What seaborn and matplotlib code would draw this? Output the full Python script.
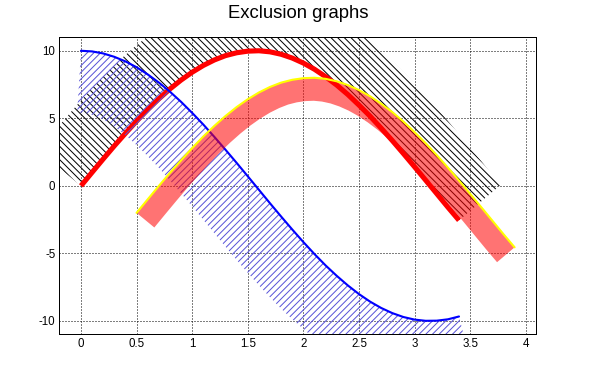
import numpy as np
import pandas as pd
import matplotlib
matplotlib.use("Agg")
import matplotlib.pyplot as plt
import seaborn as sns
from matplotlib.ticker import MultipleLocator, FuncFormatter
from matplotlib.patches import Polygon

# ---------------- data ----------------
x_red = [0.0, 0.1, 0.2, 0.3, 0.4, 0.5, 0.6, 0.7, 0.8, 0.9, 1.0, 1.1, 1.2, 1.3, 1.4,
         1.5, 1.6, 1.7, 1.8, 1.9, 2.0, 2.1, 2.2, 2.3, 2.4, 2.5, 2.6, 2.7, 2.8, 2.9,
         3.0, 3.1, 3.2, 3.3, 3.4]
y_red = [0.00, 1.00, 1.99, 2.96, 3.89, 4.79, 5.65, 6.44, 7.17, 7.83, 8.41, 8.91,
         9.32, 9.64, 9.85, 9.97, 10.00, 9.92, 9.74, 9.46, 9.09, 8.63, 8.08, 7.46,
         6.76, 5.98, 5.16, 4.27, 3.35, 2.39, 1.41, 0.42, -0.58, -1.58, -2.55]

x_blue = [0.0, 0.1, 0.2, 0.3, 0.4, 0.5, 0.6, 0.7, 0.8, 0.9, 1.0, 1.1, 1.2, 1.3, 1.4,
          1.5, 1.6, 1.7, 1.8, 1.9, 2.0, 2.1, 2.2, 2.3, 2.4, 2.5, 2.6, 2.7, 2.8, 2.9,
          3.0, 3.1, 3.2, 3.3, 3.4]
y_blue = [10.00, 9.95, 9.80, 9.55, 9.21, 8.78, 8.25, 7.65, 6.97, 6.22, 5.40, 4.54,
          3.62, 2.67, 1.70, 0.71, -0.29, -1.29, -2.27, -3.23, -4.16, -5.05, -5.89,
          -6.66, -7.37, -8.01, -8.57, -9.04, -9.42, -9.71, -9.90, -9.99, -9.98,
          -9.88, -9.67]

x_yellow = [0.5, 0.6, 0.7, 0.8, 0.9, 1.0, 1.1, 1.2, 1.3, 1.4, 1.5, 1.6, 1.7, 1.8,
            1.9, 2.0, 2.1, 2.2, 2.3, 2.4, 2.5, 2.6, 2.7, 2.8, 2.9, 3.0, 3.1, 3.2,
            3.3, 3.4, 3.5, 3.6, 3.7, 3.8, 3.9]
y_yellow = [-2.00, -1.00, -0.01, 0.96, 1.89, 2.79, 3.65, 4.44, 5.17, 5.83, 6.41,
            6.91, 7.32, 7.64, 7.85, 7.97, 8.00, 7.92, 7.74, 7.46, 7.09, 6.63, 6.08,
            5.46, 4.76, 3.98, 3.16, 2.27, 1.35, 0.39, -0.59, -1.58, -2.58, -3.58,
            -4.55]

title = "Exclusion graphs"

# ---------------- style ----------------
sns.set_style("white")
plt.rcParams["font.family"] = ["Liberation Sans", "DejaVu Sans"]
plt.rcParams["axes.unicode_minus"] = False
plt.rcParams["hatch.linewidth"] = 0.9

DPI = 80
fig = plt.figure(figsize=(596 / DPI, 372 / DPI), dpi=DPI)
ax = fig.add_axes([0.0995, 0.1013, 0.8003, 0.7984])

df_red = pd.DataFrame({"x": x_red, "y": y_red})
df_blue = pd.DataFrame({"x": x_blue, "y": y_blue})
df_yel = pd.DataFrame({"x": x_yellow, "y": y_yellow})

sns.lineplot(data=df_red, x="x", y="y", color="#ff0000", lw=4.6, sort=False,
             estimator=None, ax=ax, zorder=3.2, solid_capstyle="butt")
sns.lineplot(data=df_blue, x="x", y="y", color="#0000ff", lw=1.9, sort=False,
             estimator=None, ax=ax, zorder=3.4)
sns.lineplot(data=df_yel, x="x", y="y", color="#ffff00", lw=1.9, sort=False,
             estimator=None, ax=ax, zorder=3.6)

ax.set_xlim(-0.195, 4.095)
ax.set_ylim(-10.99, 10.995)
ax.set_xlabel("")
ax.set_ylabel("")


def band(x, y, width_px, side):
    pts = ax.transData.transform(np.column_stack([x, y]))
    t = np.gradient(pts, axis=0)
    t /= np.linalg.norm(t, axis=1)[:, None]
    n = np.column_stack([-t[:, 1], t[:, 0]]) * side
    off = pts + n * width_px
    poly = np.vstack([pts, off[::-1]])
    return ax.transData.inverted().transform(poly)


ax.add_patch(Polygon(band(x_red, y_red, 55, 1), closed=True, facecolor="none",
                     edgecolor="black", hatch="\\\\\\\\", lw=0, zorder=3.1))
ax.add_patch(Polygon(band(x_blue, y_blue, 62, -1), closed=True, facecolor="none",
                     edgecolor="#5954d8", hatch="////", lw=0, zorder=3.3))
ax.add_patch(Polygon(band(x_yellow, y_yellow, 23, -1), closed=True,
                     facecolor=(1, 0, 0, 0.55), edgecolor="none", lw=0, zorder=3.5))

# ---------------- axes cosmetics ----------------
ax.xaxis.set_major_locator(MultipleLocator(0.5))
ax.xaxis.set_minor_locator(MultipleLocator(0.1))
ax.yaxis.set_major_locator(MultipleLocator(5))
ax.yaxis.set_minor_locator(MultipleLocator(1))
fmt = FuncFormatter(lambda v, p: "%g" % round(v, 6))
ax.xaxis.set_major_formatter(fmt)
ax.yaxis.set_major_formatter(fmt)

ax.tick_params(which="both", direction="in", top=False, right=False,
               width=0.9, color="black", labelsize=10.4, labelcolor="black")
ax.tick_params(axis="x", which="major", length=8.1, pad=3.2)
ax.tick_params(axis="x", which="minor", length=4.0)
ax.tick_params(axis="y", which="major", length=12.9, pad=3.5)
ax.tick_params(axis="y", which="minor", length=6.4)

ax.grid(True, which="major", color="black", linestyle=(0, (1, 2)), linewidth=0.9)
ax.set_axisbelow(True)
for s in ax.spines.values():
    s.set_visible(True)
    s.set_color("black")
    s.set_linewidth(0.9)

fig.text(0.5, 1 - 18.3 / 372, title, ha="center", va="baseline", fontsize=16.7,
         color="black")

fig.savefig("out.png", dpi=DPI)
